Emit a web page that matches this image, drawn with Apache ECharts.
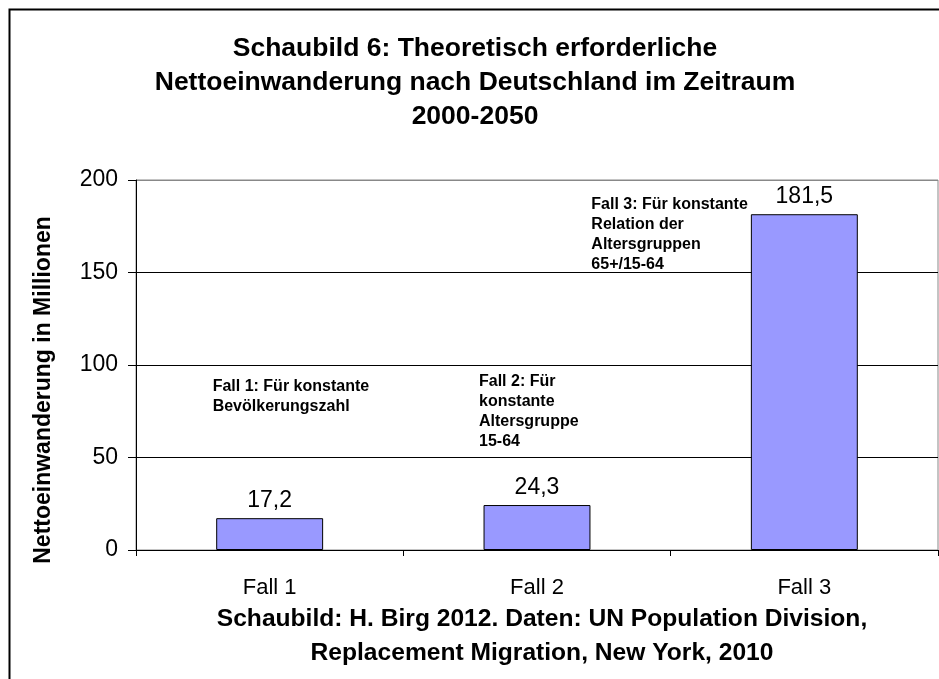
<!DOCTYPE html>
<html>
<head>
<meta charset="utf-8">
<script src="https://cdn.jsdelivr.net/npm/echarts@6/dist/echarts.min.js"></script>
<style>
html,body{margin:0;padding:0;background:#fff;}
#chart{width:939px;height:679px;}
</style>
</head>
<body>
<div id="chart"></div>
<script>
var categories = ['Fall 1', 'Fall 2', 'Fall 3'];
var values = [17.2, 24.3, 181.5];
var yTicks = [0, 50, 100, 150, 200];
var titleLines = ['Schaubild 6: Theoretisch erforderliche', 'Nettoeinwanderung nach Deutschland im Zeitraum', '2000-2050'];
var sourceLines = ['Schaubild: H. Birg 2012. Daten: UN Population Division,', 'Replacement Migration, New York, 2010'];
var yAxisTitle = 'Nettoeinwanderung in Millionen';
var noteTexts = [
  'Fall 1: Für konstante\nBevölkerungszahl',
  'Fall 2: Für\nkonstante\nAltersgruppe\n15-64',
  'Fall 3: Für konstante\nRelation der\nAltersgruppen\n65+/15-64'
];
var noteCategory = [0, 1, 2];
var noteValue = [93.5, 96.5, 192];

var FONT = '"Liberation Sans", Arial, Helvetica, sans-serif';
var chart = echarts.init(document.getElementById('chart'), null, {renderer: 'canvas'});

function fmt(v) { return String(v).replace('.', ','); }

var option = {
  backgroundColor: '#ffffff',
  animation: false,
  title: [{
    text: titleLines.join('\n'),
    left: 470, top: 27, textAlign: 'center',
    textStyle: {fontFamily: FONT, fontWeight: 'bold', fontSize: 26.5, lineHeight: 34, color: '#000'}
  }, {
    text: sourceLines.join('\n'),
    left: 537, top: 597, textAlign: 'center',
    textStyle: {fontFamily: FONT, fontWeight: 'bold', fontSize: 24.6, lineHeight: 34, color: '#000'}
  }],
  grid: {left: 136, right: 1, top: 180, bottom: 129, outerBoundsMode: 'none', containLabel: false,
         show: true, borderColor: '#888', borderWidth: 1, backgroundColor: 'transparent'},
  xAxis: {
    type: 'category', data: categories, boundaryGap: true,
    axisLine: {show: true, lineStyle: {color: '#000', width: 1}},
    axisTick: {show: true, length: 6, lineStyle: {color: '#000'}},
    axisLabel: {fontFamily: FONT, fontSize: 22, color: '#000', margin: 27}
  },
  yAxis: {
    type: 'value', min: 0, max: 200, interval: 50,
    axisLine: {show: true, lineStyle: {color: '#000', width: 1}},
    axisTick: {show: true, length: 8, lineStyle: {color: '#000'}},
    axisLabel: {fontFamily: FONT, fontSize: 23, color: '#000', margin: 18,
      formatter: function (v) { return yTicks.indexOf(v) >= 0 ? String(v) : ''; }},
    splitLine: {show: true, lineStyle: {color: ['#000', '#000', '#000', '#000', '#888'], width: 1}}
  },
  series: [{
    type: 'bar', data: values, barWidth: '40%',
    itemStyle: {color: '#9999FF', borderColor: '#000', borderWidth: 1},
    label: {show: true, position: 'top', distance: 6, fontFamily: FONT, fontSize: 23, color: '#000',
      formatter: function (p) { return fmt(p.value); }}
  }]
};
chart.setOption(option);

var noteOffsets = [-57, -58, -213];
var graphics = [{
  type: 'rect', left: 7, top: 7, silent: true,
  shape: {width: 1000, height: 1000},
  style: {fill: 'none', stroke: '#000', lineWidth: 2}
}, {
  type: 'text', x: 44, y: 390, rotation: Math.PI / 2,
  style: {text: yAxisTitle, fontFamily: FONT, fontWeight: 'bold', fontSize: 23, fill: '#000',
          align: 'center', verticalAlign: 'middle'}
}];
for (var i = 0; i < noteTexts.length; i++) {
  var pt = chart.convertToPixel({gridIndex: 0}, [noteCategory[i], noteValue[i]]);
  graphics.push({
    type: 'text', x: pt[0] + noteOffsets[i], y: pt[1],
    style: {text: noteTexts[i], fontFamily: FONT, fontWeight: 'bold', fontSize: 16, lineHeight: 20,
            fill: '#000', align: 'left', verticalAlign: 'top'}
  });
}
chart.setOption({graphic: graphics});
</script>
</body>
</html>
